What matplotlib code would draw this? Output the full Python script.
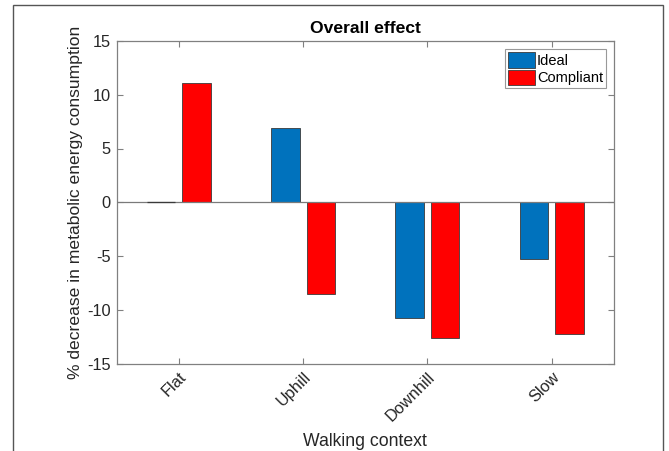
import matplotlib
matplotlib.use("Agg")
import matplotlib.pyplot as plt
import numpy as np
from matplotlib.patches import Rectangle

categories = ["Flat", "Uphill", "Downhill", "Slow"]
ideal = [0.0, 6.9, -10.75, -5.25]
compliant = [11.1, -8.55, -12.6, -12.3]
yticks = [-15, -10, -5, 0, 5, 10, 15]

plt.rcParams['font.family'] = ['Liberation Sans', 'DejaVu Sans']
plt.rcParams['axes.unicode_minus'] = False

fig = plt.figure(figsize=(6.69, 4.51), dpi=100)
ax = fig.add_axes([116.5/669, 1 - 363.5/451, (614 - 116.5)/669, (363.5 - 41)/451])

x = np.arange(1, len(categories) + 1)
off = 1/7
w = 0.8 * 2/7
edge = '#3a3a3a'
ax.bar(x - off, ideal, w, color='#0072BD', edgecolor=edge, linewidth=0.6, label='Ideal', zorder=2)
ax.bar(x + off, compliant, w, color='#FF0000', edgecolor=edge, linewidth=0.6, label='Compliant', zorder=2)
ax.axhline(0, color='#7a7a7a', linewidth=0.9, zorder=3)
# zero-height bar edge shows as a dark line
ax.hlines(0, x[0] - off - w/2, x[0] - off + w/2, color=edge, linewidth=0.9, zorder=4)

ax.set_xlim(0.5, 4.5)
ax.set_ylim(-15, 15)
ax.set_yticks(yticks)
ax.set_xticks(x)
ax.set_xticklabels(categories, rotation=45, ha='right', rotation_mode='anchor')
spine_c = '#808080'
for s in ax.spines.values():
    s.set_color(spine_c)
    s.set_linewidth(0.9)
ax.tick_params(direction='in', length=4, width=0.8, color=spine_c, labelsize=11.8,
               top=True, right=True, labelcolor='#262626', pad=4)
ax.set_xlabel('Walking context', fontsize=12.7, color='#262626', labelpad=7)
ax.set_ylabel('% decrease in metabolic energy consumption', fontsize=12.6, color='#262626', labelpad=3)
ax.set_title('Overall effect', fontsize=12.6, fontweight='bold', color='black', pad=6)

leg = ax.legend(loc='upper right', fontsize=10.5, frameon=True, fancybox=False,
                edgecolor='#808080', borderpad=0.2, handlelength=1.9, handleheight=1.3,
                handletextpad=0.1, labelspacing=0.12, borderaxespad=0.55)
leg.get_frame().set_linewidth(0.8)

fig.patches.append(Rectangle((12.5/669, -0.1), (662.5 - 12.5)/669, 1.1 - 5/451,
                             transform=fig.transFigure, fill=False,
                             edgecolor='#555555', linewidth=1.0))

fig.savefig('out.png', dpi=100)
